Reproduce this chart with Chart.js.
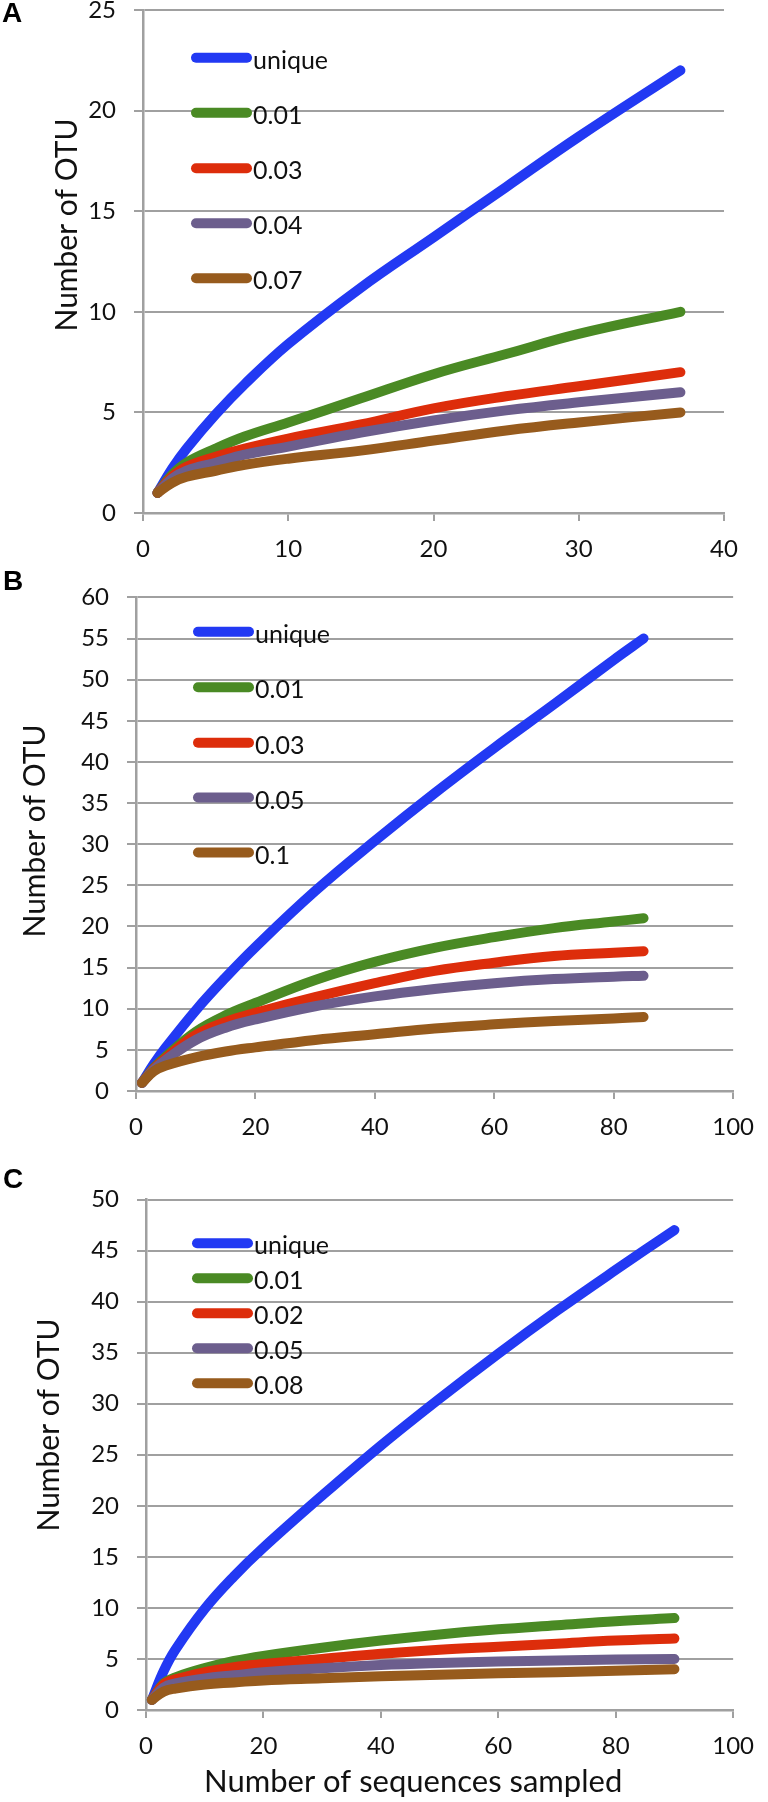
<!DOCTYPE html>
<html>
<head>
<meta charset="utf-8">
<script src="https://cdn.jsdelivr.net/npm/chart.js@4/dist/chart.umd.min.js"></script>
<style>
    html, body { margin: 0; padding: 0; background: #fff; }
    body { width: 768px; height: 1802px; position: relative; overflow: hidden; }
    canvas { position: absolute; left: 0; display: block; }
</style>
</head>
<body>
<canvas id="chartA"></canvas>
<canvas id="chartB"></canvas>
<canvas id="chartC"></canvas>
<script>
/* global Chart */

// ---------------------------------------------------------------------------
// Data
// ---------------------------------------------------------------------------

const SERIES_COLORS = ['#2239f3', '#4a8a24', '#dd2d0b', '#6c5e8d', '#975b1d'];

// A
const A_LABELS = ['unique', '0.01', '0.03', '0.04', '0.07'];
const A_X      = [1, 2, 3, 5, 7, 10, 15, 20, 25, 30, 37];
const A_UNIQUE = [1, 2.2, 3.2, 4.9, 6.4, 8.4, 11.2, 13.7, 16.2, 18.7, 22];
const A_001    = [1, 1.9, 2.5, 3.2, 3.8, 4.5, 5.7, 6.9, 7.9, 8.9, 10];
const A_003    = [1, 1.8, 2.3, 2.8, 3.2, 3.7, 4.4, 5.2, 5.8, 6.3, 7];
const A_004    = [1, 1.7, 2.1, 2.5, 2.9, 3.3, 4.0, 4.6, 5.1, 5.5, 6];
const A_007    = [1, 1.5, 1.8, 2.1, 2.4, 2.7, 3.1, 3.6, 4.1, 4.5, 5];

// B
const B_LABELS = ['unique', '0.01', '0.03', '0.05', '0.1'];
const B_X      = [1, 3, 5, 10, 15, 20, 30, 40, 50, 60, 70, 80, 85];
const B_UNIQUE = [1, 3.3, 5.3, 9.8, 13.8, 17.5, 24.3, 30.4, 36.2, 41.7, 47, 52.4, 55];
const B_001    = [1, 2.8, 4.2, 7.2, 9.2, 10.7, 13.5, 15.7, 17.4, 18.7, 19.8, 20.6, 21];
const B_003    = [1, 2.7, 4.0, 6.8, 8.4, 9.5, 11.4, 13.1, 14.6, 15.6, 16.4, 16.8, 17];
const B_005    = [1, 2.6, 3.8, 6.2, 7.7, 8.7, 10.3, 11.5, 12.4, 13.1, 13.6, 13.9, 14];
const B_01     = [1, 2.4, 3.1, 4.1, 4.8, 5.3, 6.2, 6.9, 7.6, 8.1, 8.5, 8.8, 9];

// C
const C_LABELS = ['unique', '0.01', '0.02', '0.05', '0.08'];
const C_X      = [1, 3, 5, 10, 15, 20, 30, 40, 50, 60, 70, 80, 90];
const C_UNIQUE = [1, 3.8, 5.9, 9.9, 13.1, 15.9, 21.0, 25.9, 30.5, 34.9, 39.1, 43.1, 47];
const C_001    = [1, 2.6, 3.2, 4.1, 4.8, 5.3, 6.1, 6.8, 7.4, 7.9, 8.3, 8.7, 9];
const C_002    = [1, 2.5, 3.0, 3.7, 4.2, 4.5, 5.0, 5.5, 5.9, 6.2, 6.5, 6.8, 7];
const C_005    = [1, 2.2, 2.6, 3.1, 3.4, 3.7, 4.1, 4.4, 4.6, 4.75, 4.85, 4.95, 5];
const C_008    = [1, 1.8, 2.1, 2.5, 2.7, 2.9, 3.1, 3.3, 3.45, 3.6, 3.7, 3.85, 4];

// axis ranges [min, max, step]
const A_XAXIS = [0, 40, 10];
const A_YAXIS = [0, 25, 5];
const B_XAXIS = [0, 100, 20];
const B_YAXIS = [0, 60, 5];
const C_XAXIS = [0, 100, 20];
const C_YAXIS = [0, 50, 5];

const Y_TITLE = 'Number of OTU';
const X_TITLE = 'Number of sequences sampled';

// ---------------------------------------------------------------------------
// Styles
// ---------------------------------------------------------------------------

const FONT      = 'Lato, "Open Sans", sans-serif';
const GRID      = '#a0a0a0';
const TEXT      = '#111';
const X_AXIS_H  = 45;

// ---------------------------------------------------------------------------
// Overlay: panel letter, axis titles, in-plot legend
// ---------------------------------------------------------------------------

const overlay = {
    id: 'overlay',
    afterDraw(chart, args, o) {
        const ctx = chart.ctx;
        const t = o.top;
        ctx.save();

        // panel letter
        ctx.fillStyle = '#000';
        ctx.font = 'bold 28px "Liberation Sans", Arial, sans-serif';
        ctx.textAlign = 'left';
        ctx.textBaseline = 'alphabetic';
        ctx.fillText(o.letter, o.letterPos[0], o.letterPos[1] - t);

        // y title
        ctx.fillStyle = TEXT;
        ctx.font = '30px ' + FONT;
        ctx.save();
        ctx.translate(o.yTitle[0], o.yTitle[1] - t);
        ctx.rotate(-Math.PI / 2);
        ctx.textAlign = 'center';
        ctx.fillText(Y_TITLE, 0, 0);
        ctx.restore();

        // x title
        if (o.xTitle) {
            ctx.font = '31px ' + FONT;
            ctx.textAlign = 'left';
            ctx.fillText(X_TITLE, o.xTitle[0], o.xTitle[1] - t);
        }

        // legend
        const lg = o.legend;
        ctx.lineCap = 'round';
        ctx.lineWidth = 10;
        ctx.font = '25px ' + FONT;
        ctx.textBaseline = 'middle';
        chart.data.datasets.forEach((ds, i) => {
            const y = lg.ys[i] - t;
            ctx.strokeStyle = ds.borderColor;
            ctx.beginPath();
            ctx.moveTo(lg.x1, y);
            ctx.lineTo(lg.x2, y);
            ctx.stroke();
            ctx.fillStyle = TEXT;
            ctx.fillText(ds.label, lg.x2 + 6, y + 3);
        });
        ctx.restore();
    },
};

// ---------------------------------------------------------------------------
// Panel builder
// ---------------------------------------------------------------------------

function makePanel(id, p) {
    const el = document.getElementById(id);
    el.width = 768;
    el.height = p.height;
    el.style.top = p.top + 'px';

    const datasets = p.series.map((ys, i) => ({
        label:           p.labels[i],
        data:            p.xs.map((x, j) => ({ x, y: ys[j] })),
        borderColor:     SERIES_COLORS[i],
        backgroundColor: SERIES_COLORS[i],
        borderWidth:     10,
        borderCapStyle:  'round',
        borderJoinStyle: 'round',
        pointRadius:     0,
        tension:         0.4,
        order:           p.series.length - 1 - i,
    }));

    const a = p.area;
    return new Chart(el.getContext('2d'), {
        type: 'line',
        data: { datasets },
        options: {
            responsive: false,
            animation:  false,
            events:     [],
            layout: {
                padding: {
                    left:   0,
                    top:    a.top - p.top,
                    right:  768 - a.right,
                    bottom: p.top + p.height - a.bottom - X_AXIS_H,
                },
            },
            plugins: {
                legend:  { display: false },
                tooltip: { enabled: false },
                overlay: p.overlay,
            },
            scales: {
                x: {
                    type: 'linear',
                    min: p.xAxis[0], max: p.xAxis[1],
                    afterFit: s => { s.height = X_AXIS_H; },
                    ticks:  { stepSize: p.xAxis[2], color: TEXT, padding: 14, font: { family: FONT, size: 24 } },
                    grid:   { drawOnChartArea: false, drawTicks: true, tickLength: 8, color: GRID, lineWidth: 2 },
                    border: { display: true, color: GRID, width: 2.5 },
                },
                y: {
                    type: 'linear',
                    min: p.yAxis[0], max: p.yAxis[1],
                    afterFit: s => { s.width = a.left; },
                    ticks:  { stepSize: p.yAxis[2], color: TEXT, padding: 18, font: { family: FONT, size: 24 } },
                    grid:   { color: GRID, lineWidth: 2, tickLength: 9 },
                    border: { display: true, color: GRID, width: 2.5 },
                },
            },
        },
        plugins: [overlay],
    });
}

makePanel('chartA', {
    top: -30, height: 595,
    area: { left: 143, right: 724, top: 10, bottom: 513 },
    xs: A_X, series: [A_UNIQUE, A_001, A_003, A_004, A_007], labels: A_LABELS,
    xAxis: A_XAXIS, yAxis: A_YAXIS,
    overlay: {
        top: -30, letter: 'A', letterPos: [2, 22],
        yTitle: [77, 225],
        legend: { x1: 196, x2: 247, ys: [57.7, 112.7, 168.3, 223.3, 278.3] },
    },
});

makePanel('chartB', {
    top: 565, height: 583,
    area: { left: 136, right: 739, top: 594.5, bottom: 1091 },
    xs: B_X, series: [B_UNIQUE, B_001, B_003, B_005, B_01], labels: B_LABELS,
    xAxis: B_XAXIS, yAxis: B_YAXIS,
    overlay: {
        top: 565, letter: 'B', letterPos: [3, 590],
        yTitle: [45, 831],
        legend: { x1: 198, x2: 249, ys: [631.7, 687.3, 742.7, 797.5, 852.5] },
    },
});

makePanel('chartC', {
    top: 1148, height: 654,
    area: { left: 146, right: 746, top: 1199.5, bottom: 1710 },
    xs: C_X, series: [C_UNIQUE, C_001, C_002, C_005, C_008], labels: C_LABELS,
    xAxis: C_XAXIS, yAxis: C_YAXIS,
    overlay: {
        top: 1148, letter: 'C', letterPos: [3, 1188],
        yTitle: [59, 1425],
        xTitle: [204, 1792],
        legend: { x1: 197, x2: 248, ys: [1243.3, 1278.3, 1313.3, 1348.3, 1383.3] },
    },
});
</script>
</body>
</html>
